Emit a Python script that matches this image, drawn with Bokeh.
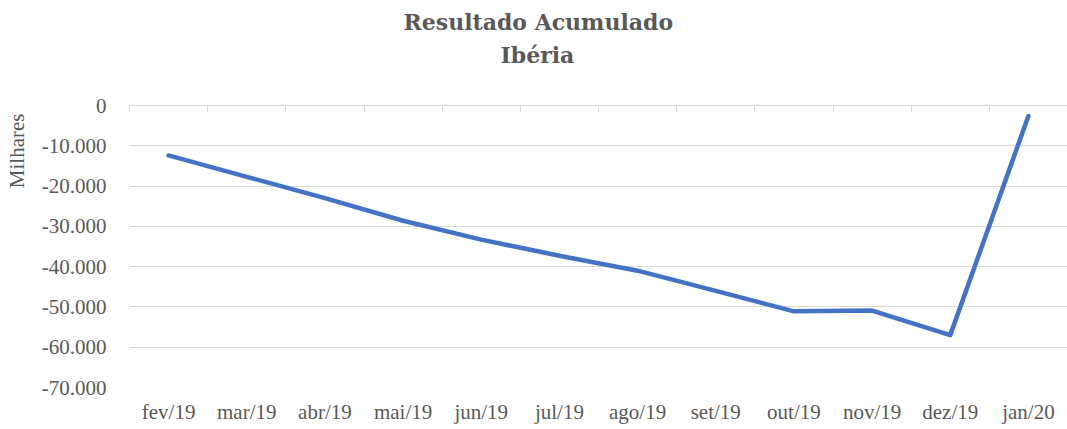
from bokeh.plotting import figure
from bokeh.models import Range1d, FixedTicker, LinearAxis, Title, Grid
from bokeh.embed import file_html
from bokeh.resources import INLINE

categories = ["fev/19", "mar/19", "abr/19", "mai/19", "jun/19", "jul/19",
              "ago/19", "set/19", "out/19", "nov/19", "dez/19", "jan/20"]
values = [-12400, -17700, -23000, -28600, -33300, -37300,
          -41000, -46000, -51100, -50900, -57000, -2600]
y_ticks = [0, -10000, -20000, -30000, -40000, -50000, -60000, -70000]
y_labels = ["0", "-10.000", "-20.000", "-30.000", "-40.000", "-50.000", "-60.000", "-70.000"]

FONT = "Liberation Serif"
TFONT = "DejaVu Serif"
GRAY = "#595959"
GRID = "#d9d9d9"

xs = [i + 0.5 for i in range(len(categories))]
bounds = list(range(len(categories) + 1))


def spacer(size, tick):
    ax = LinearAxis(ticker=FixedTicker(ticks=[tick]), major_label_overrides={tick: ""})
    ax.axis_line_color = None
    ax.major_tick_line_color = "white"
    ax.minor_tick_line_color = None
    ax.major_tick_in = 0
    ax.major_tick_out = size
    ax.major_label_standoff = 0
    return ax


p = figure(frame_width=938, frame_height=282, output_backend="svg", toolbar_location=None,
           x_range=Range1d(0, len(categories)), y_range=Range1d(-70000, 0),
           min_border_left=129, min_border_top=105, min_border_right=0, min_border_bottom=30,
           x_axis_type=None, y_axis_type=None, outline_line_color=None)

# top axis with category boundary tick marks (closest to frame)
taxis = LinearAxis(ticker=FixedTicker(ticks=bounds),
                   major_label_overrides={b: "" for b in bounds})
taxis.axis_line_color = GRID
taxis.major_tick_line_color = GRID
taxis.major_tick_in = 7
taxis.major_tick_out = 0
taxis.minor_tick_line_color = None
taxis.major_label_text_color = None
taxis.major_label_standoff = 0
p.add_layout(taxis, "above")
p.add_layout(spacer(36, 6), "above")

# titles
p.add_layout(Title(text="Ibéria", align="left", text_font=TFONT, text_font_size="22px",
                   text_color=GRAY, text_font_style="bold", standoff=4, offset=371), "above")
p.add_layout(Title(text="Resultado Acumulado", align="left", text_font=TFONT,
                   text_font_size="22px", text_color=GRAY, text_font_style="bold",
                   standoff=6, offset=274), "above")

# bottom category labels
xaxis = LinearAxis(ticker=FixedTicker(ticks=xs),
                   major_label_overrides={x: c for x, c in zip(xs, categories)})
xaxis.axis_line_color = None
xaxis.major_tick_line_color = None
xaxis.minor_tick_line_color = None
xaxis.major_label_text_font = FONT
xaxis.major_label_text_font_size = "21px"
xaxis.major_label_text_color = GRAY
xaxis.major_label_standoff = 6
p.add_layout(xaxis, "below")

# y axis
yaxis = LinearAxis(ticker=FixedTicker(ticks=y_ticks),
                   major_label_overrides={t: l for t, l in zip(y_ticks, y_labels)})
yaxis.axis_line_color = None
yaxis.major_tick_line_color = None
yaxis.minor_tick_line_color = None
yaxis.major_label_text_font = FONT
yaxis.major_label_text_font_size = "21px"
yaxis.major_label_text_color = GRAY
yaxis.major_label_standoff = 17
p.add_layout(yaxis, "left")
p.add_layout(spacer(10, -35000), "left")
p.add_layout(Title(text="Milhares", align="right", text_font=FONT, text_font_size="21px",
                   text_color=GRAY, text_font_style="normal", standoff=0, offset=8), "left")

grid = Grid(dimension=1, ticker=FixedTicker(ticks=y_ticks), grid_line_color=GRID,
            grid_line_width=1)
p.add_layout(grid, "center")

p.line(xs, values, line_color="#4472C4", line_width=4.5, line_cap="round", line_join="round")

open("out.html", "w").write(file_html(p, INLINE))
